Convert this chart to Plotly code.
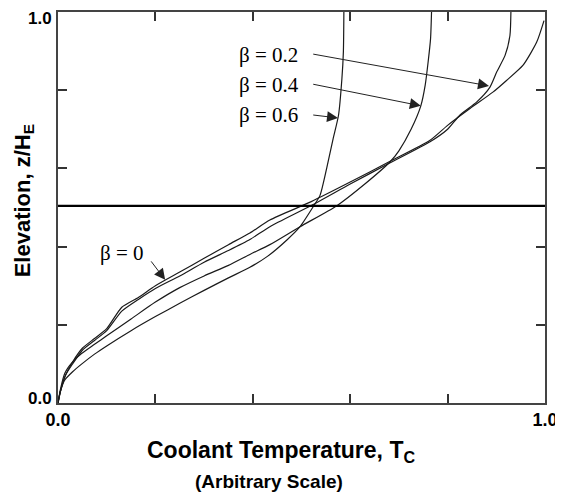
import plotly.graph_objects as go

# ---- data ----
T_B0 = [0, 0.005, 0.015, 0.03, 0.05, 0.075, 0.10, 0.131, 0.165, 0.20, 0.25, 0.30, 0.35, 0.394, 0.435,
        0.52, 0.60, 0.68, 0.764, 0.80, 0.846, 0.893, 0.921, 0.955, 0.983, 0.998]
Z_B0 = [0, 0.03, 0.07, 0.105, 0.14, 0.165, 0.19, 0.245, 0.27, 0.30, 0.335, 0.37, 0.405, 0.435, 0.468,
        0.515, 0.565, 0.617, 0.672, 0.71, 0.753, 0.795, 0.825, 0.864, 0.923, 0.978]

T_B2 = [0, 0.005, 0.015, 0.03, 0.05, 0.075, 0.10, 0.131, 0.165, 0.20, 0.25, 0.30, 0.35, 0.394, 0.435,
        0.52, 0.60, 0.68, 0.764, 0.80, 0.825, 0.86, 0.887, 0.901, 0.918, 0.928, 0.930]
Z_B2 = [0, 0.03, 0.07, 0.10, 0.135, 0.16, 0.185, 0.235, 0.265, 0.293, 0.325, 0.36, 0.39, 0.418, 0.451,
        0.505, 0.56, 0.613, 0.668, 0.70, 0.736, 0.77, 0.808, 0.847, 0.889, 0.94, 1.0]

T_B4 = [0, 0.005, 0.014, 0.03, 0.049, 0.075, 0.10, 0.15, 0.20, 0.25, 0.30, 0.35, 0.394, 0.435, 0.497,
        0.572, 0.63, 0.682, 0.70, 0.725, 0.745, 0.754, 0.760, 0.765, 0.767]
Z_B4 = [0, 0.035, 0.076, 0.105, 0.127, 0.15, 0.172, 0.215, 0.258, 0.295, 0.325, 0.352, 0.38, 0.405, 0.451,
        0.504, 0.56, 0.617, 0.645, 0.70, 0.76, 0.813, 0.872, 0.932, 1.0]

T_B6 = [0, 0.005, 0.014, 0.03, 0.049, 0.075, 0.10, 0.15, 0.20, 0.25, 0.30, 0.35, 0.394, 0.43, 0.47,
        0.497, 0.524, 0.538, 0.552, 0.565, 0.576, 0.583, 0.586, 0.587]
Z_B6 = [0, 0.03, 0.059, 0.08, 0.10, 0.125, 0.146, 0.185, 0.221, 0.255, 0.288, 0.32, 0.347, 0.375, 0.417,
        0.451, 0.502, 0.531, 0.602, 0.676, 0.736, 0.83, 0.898, 1.0]

HLINE_Z = 0.504
HLINE_T = [0, 1]

X_TICKS = [0, 0.2, 0.4, 0.6, 0.8, 1.0]
X_TICK_TEXT = ["0.0", "", "", "", "", "1.0"]
Y_TICKS = [0, 0.2, 0.4, 0.6, 0.8, 1.0]
Y_TICK_TEXT = ["0.0", "", "", "", "", "1.0"]

# label text, label position, arrow tail, arrow tip (data coords)
LABELS = [
    ("β = 0.2", 0.433, 0.890, 0.521, 0.893, 0.885, 0.811),
    ("β = 0.4", 0.433, 0.813, 0.521, 0.816, 0.745, 0.760),
    ("β = 0.6", 0.433, 0.737, 0.521, 0.737, 0.575, 0.729),
    ("β = 0",   0.131, 0.384, 0.189, 0.366, 0.220, 0.315),
]

fig = go.Figure()
line_style = dict(color="#1a1a1a", width=1.2, shape="spline", smoothing=0.6)
for T, Z in [(T_B0, Z_B0), (T_B2, Z_B2), (T_B4, Z_B4), (T_B6, Z_B6)]:
    fig.add_trace(go.Scatter(x=T, y=Z, mode="lines", line=line_style,
                             showlegend=False, hoverinfo="skip"))

fig.add_trace(go.Scatter(x=HLINE_T, y=[HLINE_Z, HLINE_Z], mode="lines",
                         line=dict(color="black", width=2.2), showlegend=False, hoverinfo="skip"))

annotations = []
for text, lx, ly, tx, ty, hx, hy in LABELS:
    annotations.append(dict(x=lx, y=ly, xref="x", yref="y", text=text, showarrow=False,
                            font=dict(family="Liberation Serif", size=21, color="black"),
                            xanchor="center", yanchor="middle"))
    annotations.append(dict(x=hx, y=hy, xref="x", yref="y", ax=tx, ay=ty, axref="x", ayref="y",
                            text="", showarrow=True, arrowhead=2, arrowsize=2.2, arrowwidth=1,
                            arrowcolor="#222", standoff=0, startstandoff=0))

# y tick labels drawn as annotations so the top one is not culled at the page edge
for val, txt in zip(Y_TICKS, Y_TICK_TEXT):
    if txt:
        annotations.append(dict(x=0, y=val, xref="paper", yref="y", text="<b>" + txt + "</b>",
                                showarrow=False, xanchor="right", yanchor="middle",
                                xshift=-4, yshift=(-6 if val == 1 else 5),
                                font=dict(family="Liberation Sans", size=17, color="black")))

annotations.append(dict(x=0.458, y=-0.123, xref="paper", yref="paper",
                        text="<b>Coolant Temperature, T<sub>C</sub></b>", showarrow=False,
                        font=dict(family="Liberation Sans", size=23, color="black"),
                        xanchor="center", yanchor="middle"))
annotations.append(dict(x=0.433, y=-0.202, xref="paper", yref="paper",
                        text="<b>(Arbitrary Scale)</b>", showarrow=False,
                        font=dict(family="Liberation Sans", size=19, color="black"),
                        xanchor="center", yanchor="middle"))
annotations.append(dict(x=-0.0709, y=0.517, xref="paper", yref="paper",
                        text="<b>Elevation, z/H<sub>E</sub></b>", showarrow=False, textangle=-90,
                        font=dict(family="Liberation Sans", size=22, color="black"),
                        xanchor="center", yanchor="middle"))

axis_common = dict(showgrid=False, zeroline=False, showline=True, linecolor="#444", linewidth=1.5,
                   mirror="ticks", ticks="inside", ticklen=9, tickwidth=1.5, tickcolor="#333",
                   automargin=False, ticklabeloverflow="allow",
                   tickfont=dict(family="Liberation Sans", size=18, color="black", weight="bold"))

# the page body adds an 8px offset, so the figure is sized/margined to compensate
fig.update_layout(
    width=555, height=486,
    margin=dict(l=50, r=18, t=4, b=91, autoexpand=False),
    paper_bgcolor="white", plot_bgcolor="white",
    xaxis=dict(range=[0, 1], tickmode="array", tickvals=X_TICKS, ticktext=X_TICK_TEXT, **axis_common),
    yaxis=dict(range=[0, 1], tickmode="array", tickvals=Y_TICKS,
               ticktext=["" for _ in Y_TICK_TEXT], **axis_common),
    annotations=annotations,
)

fig.write_html("out.html")
